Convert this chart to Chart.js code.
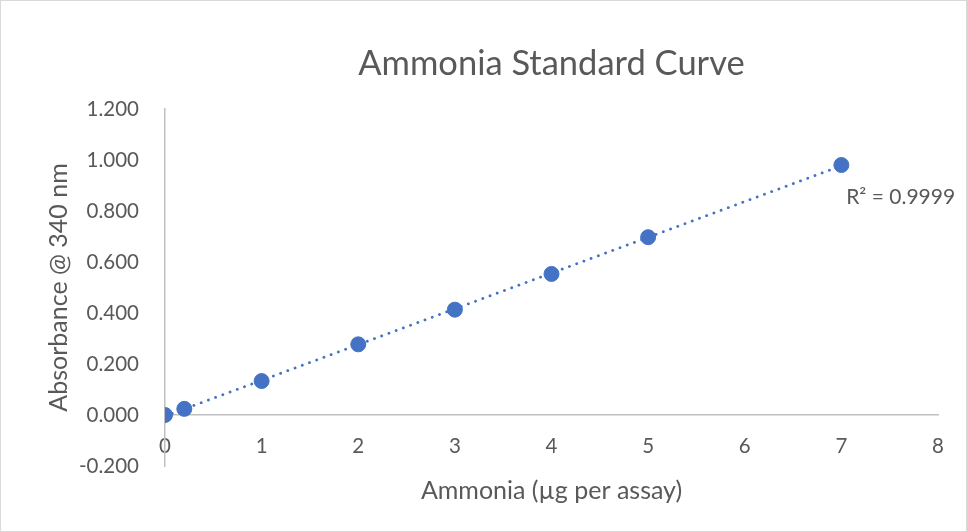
<!DOCTYPE html>
<html>
<head>
<meta charset="utf-8">
<script src="https://cdn.jsdelivr.net/npm/chart.js@4"></script>
<style>
  html, body { margin: 0; padding: 0; background: #fff; }
  #wrap { width: 967px; height: 532px; box-sizing: border-box; border: 1px solid #d9d9d9; }
</style>
</head>
<body>
<div id="wrap"><canvas id="chart" width="965" height="530"></canvas></div>
<script>
// ---- 데이터 ----
const amounts = [0, 0.2, 1, 2, 3, 4, 5, 7];            // Ammonia (µg per assay)
const absorbance = [0.000, 0.024, 0.133, 0.277, 0.413, 0.553, 0.697, 0.980];
const rSquaredText = 'R² = 0.9999';
const rLabelAt = [7.05, 0.853];                         // 라벨 위치 (데이터 좌표)

// -0.000 방지용 반올림
const fmt3 = v => { const r = Math.round(v*1000)/1000; return (r === 0 ? 0 : r).toFixed(3); };
const FONT = 'Lato, "Open Sans", sans-serif';
const GREY = '#595959';

// 선형 추세선 (최소제곱)
function linFit(xs, ys){
    const n = xs.length;
    const mx = xs.reduce((a,b)=>a+b,0)/n;
    const my = ys.reduce((a,b)=>a+b,0)/n;
    let sxy = 0, sxx = 0;
    for(let i=0;i<n;i++){ sxy += (xs[i]-mx)*(ys[i]-my); sxx += (xs[i]-mx)**2; }
    const m = sxy/sxx;
    return { m, b: my - m*mx };
}
const fit = linFit(amounts, absorbance);
const xEnds = [amounts[0], amounts[amounts.length-1]];
const trend = xEnds.map(x => ({x, y: fit.m*x + fit.b}));

// R² 라벨 플러그인
const r2Label = {
    id: 'r2Label',
    afterDatasetsDraw(chart){
        const {ctx, scales:{x, y}} = chart;
        ctx.save();
        ctx.font = `21px ${FONT}`;
        ctx.fillStyle = GREY;
        ctx.textAlign = 'left';
        ctx.textBaseline = 'middle';
        ctx.fillText(rSquaredText, x.getPixelForValue(rLabelAt[0]), y.getPixelForValue(rLabelAt[1]));
        ctx.restore();
    }
};

new Chart(document.getElementById('chart').getContext('2d'), {
    type: 'scatter',
    data: {
        datasets: [
            {
                label: 'Trend',
                type: 'line',
                data: trend,
                borderColor: '#4472C4',
                borderWidth: 2.8,
                borderDash: [0.1, 7.6],
                borderCapStyle: 'round',
                pointRadius: 0,
                fill: false,
                order: 2
            },
            {
                label: 'Absorbance',
                data: amounts.map((x,i) => ({x, y: absorbance[i]})),
                backgroundColor: '#4472C4',
                borderColor: '#4472C4',
                pointRadius: 7.5,
                order: 1
            }
        ]
    },
    options: {
        responsive: false,
        animation: false,
        layout: { padding: { left: 41, right: 28, top: 0, bottom: 0 } },
        scales: {
            x: {
                type: 'linear',
                position: { y: 0 },
                min: 0, max: 8,
                ticks: { stepSize: 1, color: GREY, font: { family: FONT, size: 20.5 }, padding: 11 },
                grid: { display: false },
                border: { color: '#c0c0c0', width: 1.5 }
            },
            y: {
                min: -0.2, max: 1.2,
                ticks: { stepSize: 0.2, color: GREY, font: { family: FONT, size: 20.5 }, padding: 18,
                         callback: v => fmt3(v) },
                grid: { display: false },
                border: { color: '#c0c0c0', width: 1.5 },
                title: { display: true, text: 'Absorbance @ 340 nm', color: GREY,
                         font: { family: FONT, size: 25 }, padding: 2 },
                afterFit: s => { s.width = 123; }
            }
        },
        plugins: {
            legend: { display: false },
            tooltip: { enabled: false },
            title: {
                display: true, fullSize: false,
                text: 'Ammonia Standard Curve',
                color: GREY,
                font: { family: FONT, size: 34.5, weight: 'normal' },
                padding: { top: 42, bottom: 24.5 }
            },
            subtitle: {
                display: true, fullSize: false, position: 'bottom',
                text: 'Ammonia (µg per assay)',
                color: GREY,
                font: { family: FONT, size: 25 },
                padding: { top: 10, bottom: 25 }
            }
        }
    },
    plugins: [r2Label]
});
</script>
</body>
</html>
